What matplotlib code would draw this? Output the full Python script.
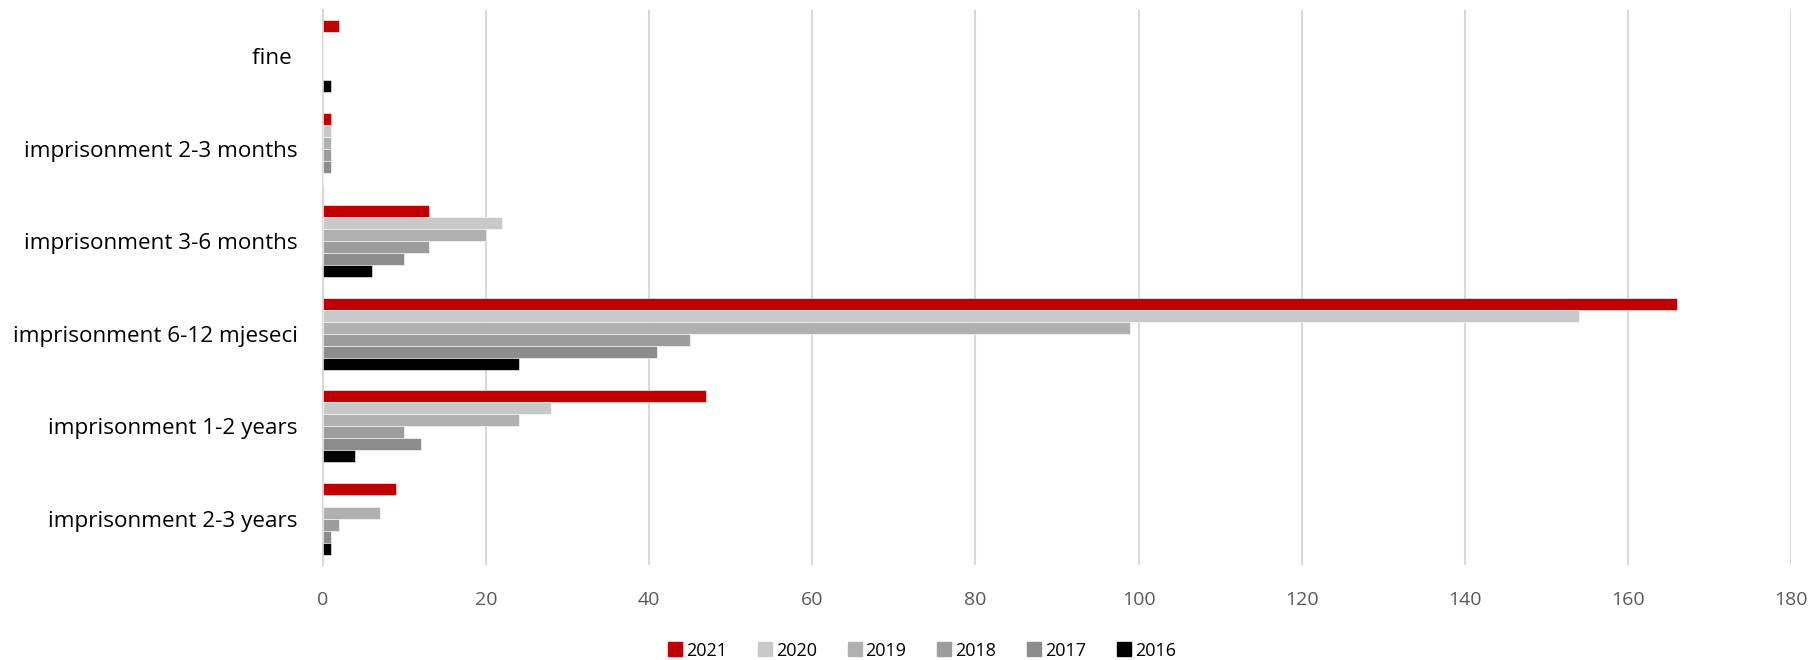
import matplotlib.pyplot as plt
import numpy as np

plt.rcParams['font.family'] = ['Open Sans', 'DejaVu Sans']

categories = ['fine ', 'imprisonment 2-3 months', 'imprisonment 3-6 months',
              'imprisonment 6-12 mjeseci', 'imprisonment 1-2 years',
              'imprisonment 2-3 years']
years = ['2021', '2020', '2019', '2018', '2017', '2016']
v2021 = [2, 1, 13, 166, 47, 9]
v2020 = [0, 1, 22, 154, 28, 0]
v2019 = [0, 1, 20, 99, 24, 7]
v2018 = [0, 1, 13, 45, 10, 2]
v2017 = [0, 1, 10, 41, 12, 1]
v2016 = [1, 0, 6, 24, 4, 1]
series = [v2021, v2020, v2019, v2018, v2017, v2016]
colors = ['#C00000', '#C8C8C8', '#B0B0B0', '#9D9D9D', '#8C8C8C', '#000000']

fig = plt.figure(figsize=(18.13, 6.6), dpi=100)
ax = fig.add_axes([0.178, 0.144, 0.81, 0.841])

y = np.arange(len(categories))
h = 0.13
for i, (vals, c, yr) in enumerate(zip(series, colors, years)):
    ax.barh(y + (i - 2.5) * h, vals, height=h, color=c, label=yr,
            edgecolor='white', linewidth=0.4, zorder=3)

ax.set_ylim(5.5, -0.5)
ax.set_xlim(0, 180)
ax.set_xticks(np.arange(0, 181, 20))
ax.set_yticks(y)
ax.set_yticklabels(categories, fontsize=16.2, color='#000000')
ax.tick_params(axis='y', length=0, pad=18)
ax.tick_params(axis='x', length=0, pad=19, labelsize=14, labelcolor='#595959')
ax.grid(axis='x', color='#D9D9D9', linewidth=1.5, zorder=0)
for s in ['top', 'right', 'bottom']:
    ax.spines[s].set_visible(False)
ax.spines['left'].set_color('#D9D9D9')
ax.spines['left'].set_linewidth(1.5)

handles = [plt.Line2D([], [], marker='s', linestyle='', markersize=10,
                      markerfacecolor=c, markeredgecolor=c) for c in colors]
fig.legend(handles, years, loc='center', bbox_to_anchor=(0.508, 0.014),
           ncol=6, frameon=False, fontsize=13, handletextpad=0.1,
           columnspacing=1.6, handlelength=1.0)

fig.savefig('out.png', dpi=100)
